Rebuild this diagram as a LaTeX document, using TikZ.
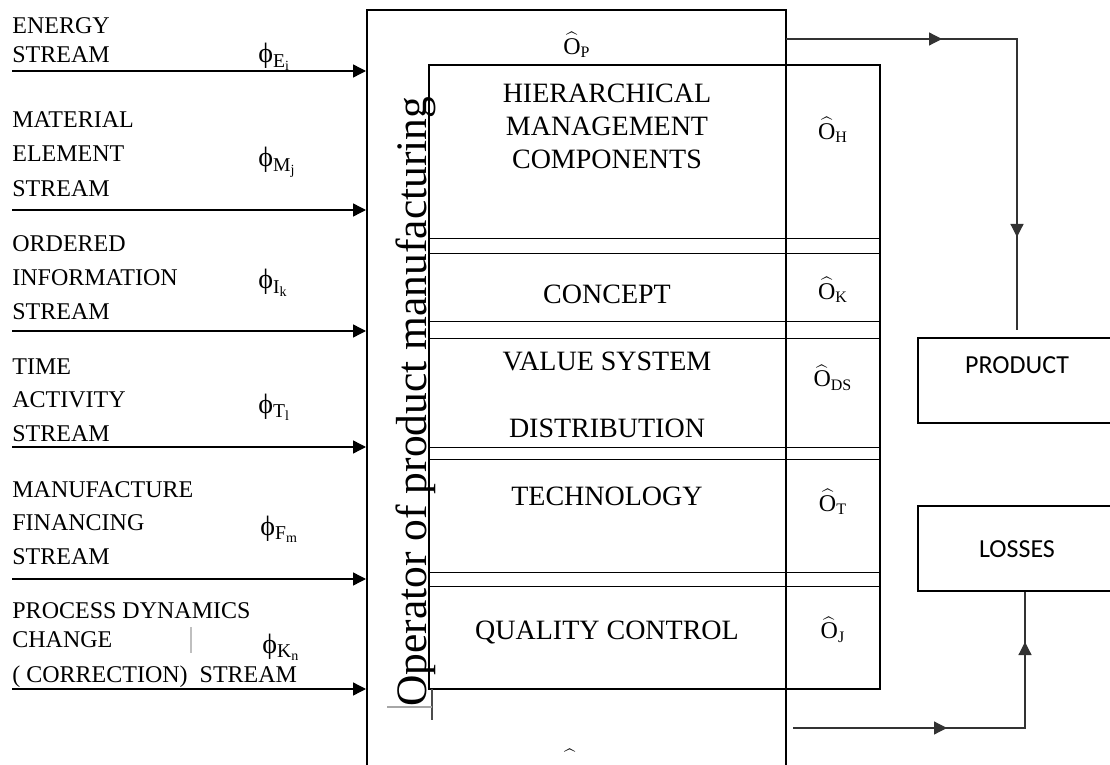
\documentclass[tikz,border=0pt]{standalone}
\usepackage{fontspec}
\setmainfont{Liberation Serif}
\newfontfamily\calibri{Carlito}
\usetikzlibrary{arrows.meta,decorations.markings}

\tikzset{
  stream/.style={line width=0.7pt,-{Triangle[length=6.5pt,width=6.5pt]}},
  streamlbl/.style={anchor=north west,inner sep=0pt,align=left,font=\fontsize{12}{16.75}\selectfont},
  fluxlbl/.style={anchor=base west,inner sep=0pt,font=\fontsize{14}{16}\selectfont},
  rowlbl/.style={inner sep=0pt,align=center,font=\fontsize{14}{16.5}\selectfont},
  oplbl/.style={inner sep=0pt,font=\fontsize{12}{14}\selectfont},
  rowsep/.style={line width=0.5pt},
  outbox/.style={draw,line width=0.9pt,inner sep=0pt,minimum width=99pt,anchor=base,font=\calibri\fontsize{13}{15}\selectfont},
  outflow/.style={draw=black!80,line width=0.6pt},
  midtip/.style={postaction={decorate,decoration={markings,mark=at position #1 with {\arrow{Triangle[length=6.5pt,width=6.5pt]}}}}},
}

\begin{document}
\begin{tikzpicture}[x=0.5pt,y=-0.5pt]
  \useasboundingbox (0,0) rectangle (1110,765);
  \clip (0,0) rectangle (1110,765);

  % operator box
  \node[draw,line width=1pt,inner sep=0pt,minimum width=209.5pt,minimum height=395pt] (opbox) at (576.5,405) {};
  \node[rotate=90,anchor=base west,inner sep=0pt,font=\fontsize{21.75}{24}\selectfont] (optxt) at (426,707) {Operator of product manufacturing};

  % management block
  \node[draw,line width=1pt,inner sep=0pt,minimum width=225.5pt,minimum height=312pt] (mgmt) at (654.5,377) {};
  \foreach \y in {239,254,321,338,447,459,572,586}
    \draw[rowsep] (429,\y) -- (880,\y);

  \node[rowlbl,anchor=north] (hier) at (607,83.5) {HIERARCHICAL\\MANAGEMENT\\COMPONENTS};
  \node[rowlbl,anchor=base] (concept) at (607,303) {CONCEPT};
  \node[rowlbl,anchor=north] (value) at (607,351.5) {VALUE SYSTEM\\[17pt]DISTRIBUTION};
  \node[rowlbl,anchor=base] (tech) at (607,505) {TECHNOLOGY};
  \node[rowlbl,anchor=base] (quality) at (607,639) {QUALITY CONTROL};

  % operators
  \node[oplbl] (oP) at (577,45) {$\widehat{\mathrm{O}}_{\mathrm{P}}$};
  \node[oplbl] (oH) at (833,130) {$\widehat{\mathrm{O}}_{\mathrm{H}}$};
  \node[oplbl] (oK) at (833,290) {$\widehat{\mathrm{O}}_{\mathrm{K}}$};
  \node[oplbl] (oDS) at (833,378) {$\widehat{\mathrm{O}}_{\mathrm{DS}}$};
  \node[oplbl] (oT) at (833,502) {$\widehat{\mathrm{O}}_{\mathrm{T}}$};
  \node[oplbl] (oJ) at (833,630) {$\widehat{\mathrm{O}}_{\mathrm{J}}$};
  \node[oplbl,anchor=north] (oBot) at (570,749) {$\widehat{\phantom{\mathrm{O}}}$};

  % input streams
  \node[streamlbl,font=\fontsize{12}{14.5}\selectfont] (energy) at (12,17) {ENERGY\\STREAM};
  \node[streamlbl,font=\fontsize{12}{17.25}\selectfont] (material) at (12,111) {MATERIAL\\ELEMENT\\STREAM};
  \node[streamlbl,font=\fontsize{12}{17}\selectfont] (ordered) at (12,235) {ORDERED\\INFORMATION\\STREAM};
  \node[streamlbl] (timeact) at (12,358) {TIME\\ACTIVITY\\STREAM};
  \node[streamlbl] (finance) at (12,481) {MANUFACTURE\\FINANCING\\STREAM};
  \node[streamlbl,font=\fontsize{12}{14.5}\selectfont] (dynamics) at (12,602) {PROCESS DYNAMICS\\CHANGE\\[3pt](\ CORRECTION)\ \ STREAM};

  \node[fluxlbl] (phiE) at (258,63) {ϕ$_{\mathrm{E}_{\mathrm{i}}}$};
  \node[fluxlbl] (phiM) at (258,167) {ϕ$_{\mathrm{M}_{\mathrm{j}}}$};
  \node[fluxlbl] (phiI) at (258,289) {ϕ$_{\mathrm{I}_{\mathrm{k}}}$};
  \node[fluxlbl] (phiT) at (258,413) {ϕ$_{\mathrm{T}_{\mathrm{l}}}$};
  \node[fluxlbl] (phiF) at (260,535) {ϕ$_{\mathrm{F}_{\mathrm{m}}}$};
  \node[fluxlbl] (phiK) at (262,653) {ϕ$_{\mathrm{K}_{\mathrm{n}}}$};

  \foreach \n/\y in {E/71,M/210,I/331,T/447,F/579,K/689}{
    \coordinate (src\n) at (12,\y);
    \draw[stream] (src\n) -- (src\n -| opbox.west);
  }

  % outputs
  \node[outbox,text height=17.5pt,text depth=25pt] (product) at (1017,373) {PRODUCT};
  \node[outbox,text height=25.5pt,text depth=17pt] (losses) at (1017,557) {LOSSES};

  \coordinate (pOut) at (786,39);
  \coordinate (lOut) at (793,728);
  \draw[outflow,midtip=78pt,midtip=214.5pt] (pOut) -| ([yshift=3.5pt]product.north);
  \draw[outflow,midtip=77pt,midtip=159pt] (lOut) -| ([xshift=4pt]losses.south);

  % stray marks
  \draw[black!70,line width=0.6pt] (432,689) -- (432,720);
  \draw[black!35,line width=0.6pt] (387,707) -- (432,707);
  \draw[black!25,line width=0.6pt] (191,627) -- (191,653);
\end{tikzpicture}
\end{document}
